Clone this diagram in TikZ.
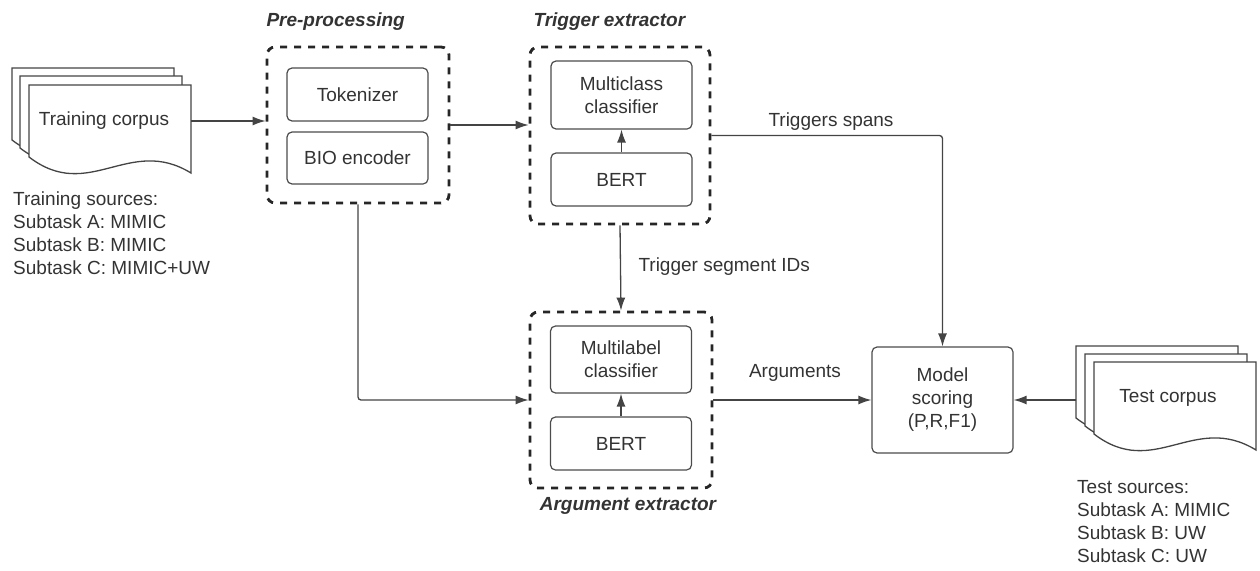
\documentclass[tikz,border=0pt]{standalone}
\usepackage{fontspec}
\setmainfont{Liberation Sans}
\usetikzlibrary{arrows.meta}
\definecolor{inkgray}{HTML}{333333}
\definecolor{linegray}{HTML}{444444}
\def\docsheet(#1,#2){\draw[sheet] (#1,{#2+72}) -- (#1,#2) -- ({#1+162},#2) -- ({#1+162},{#2+88}) .. controls ({#1+100},{#2+50}) and ({#1+60},{#2+118}) .. (#1,{#2+72}) -- cycle;}

\begin{document}
\begin{tikzpicture}[x=1pt, y=-1pt, font=\fontsize{19}{23}\selectfont, text=inkgray,
    stage/.style={draw=black!85, line width=2.8pt, dash pattern=on 7pt off 7pt, rounded corners=8pt, minimum width=182pt},
    block/.style={draw=black!70, line width=1.2pt, rounded corners=5pt, minimum width=141pt, align=center},
    title/.style={font=\fontsize{19}{23}\selectfont\bfseries\itshape},
    sheet/.style={draw=linegray, line width=1.3pt, fill=white},
    flow/.style={draw=linegray, line width=1.3pt, -{Latex[length=13pt,width=9pt]}}]
			%%%%% START %%%%%
			\useasboundingbox (0,0) rectangle (1260,570);
			
			\docsheet(12,68)
			\docsheet(20,76)
			\docsheet(29,85)
			\node (train) at (104,121) {Training corpus};
			\coordinate (trainout) at (191,121);
			\node[anchor=north west, align=left, inner sep=0pt] (trainsrc) at (13,192) {Training sources:\\Subtask A: MIMIC\\Subtask B: MIMIC\\Subtask C: MIMIC+UW};
			
			\docsheet(1076,346)
			\docsheet(1085,354)
			\docsheet(1094,362)
			\node (test) at (1168,398) {Test corpus};
			\coordinate (testin) at (1076,400);
			\node[anchor=north west, align=left, inner sep=0pt] (testsrc) at (1077,480) {Test sources:\\Subtask A: MIMIC\\Subtask B: UW\\Subtask C: UW};
			
			\node[stage, minimum height=156pt] (pre) at (358,125) {};
			\node[block, minimum height=53pt] (tok) at (357.5,94.5) {Tokenizer};
			\node[block, minimum height=52pt] (bio) at (357.5,158) {BIO encoder};
			\node[title, anchor=base west] (pretitle) at (263,27) {Pre-processing};
			
			\node[stage, minimum width=180pt, minimum height=177pt] (trig) at (620,135.5) {};
			\node[block, minimum height=68pt] (mclass) at (621.5,95) {Multiclass\\classifier};
			\node[block, minimum height=53pt] (bert1) at (621.5,179.5) {BERT};
			\node[title, anchor=base west] (trigtitle) at (530,27) {Trigger extractor};
			
			\node[stage, minimum height=176pt] (arg) at (621,400) {};
			\node[block, minimum height=67pt] (mlabel) at (621,359.5) {Multilabel\\classifier};
			\node[block, minimum height=53pt] (bert2) at (621,443.5) {BERT};
			\node[title, anchor=base] (argtitle) at (628,510) {Argument extractor};
			
			\node[block, minimum height=106pt] (score) at (942.5,400) {Model\\scoring\\(P,R,F1)};
			
			\draw[flow] (trainout) -- (pre.west |- trainout);
			\draw[flow] (pre.east) -- (trig.west |- pre.east);
			\draw[flow] (bert1) -- (mclass);
			\draw[flow] (bert2) -- (mlabel);
			\draw[flow] (trig.south) -- (arg.north);
			\draw[flow, rounded corners=3pt] (pre.south) |- (arg.west);
			\draw[flow, rounded corners=3pt] (trig.east) -| (score.north);
			\draw[flow] (arg.east) -- (score.west);
			\draw[flow] (testin) -- (score.east);
			
			\node[anchor=base] (spanlbl) at (831,126) {Triggers spans};
			\node[anchor=base west] (seglbl) at (635,271) {Trigger segment IDs};
			\node[anchor=base] (arglbl) at (795,377) {Arguments};
			
			%%%%% END %%%%%
\end{tikzpicture}
\end{document}
